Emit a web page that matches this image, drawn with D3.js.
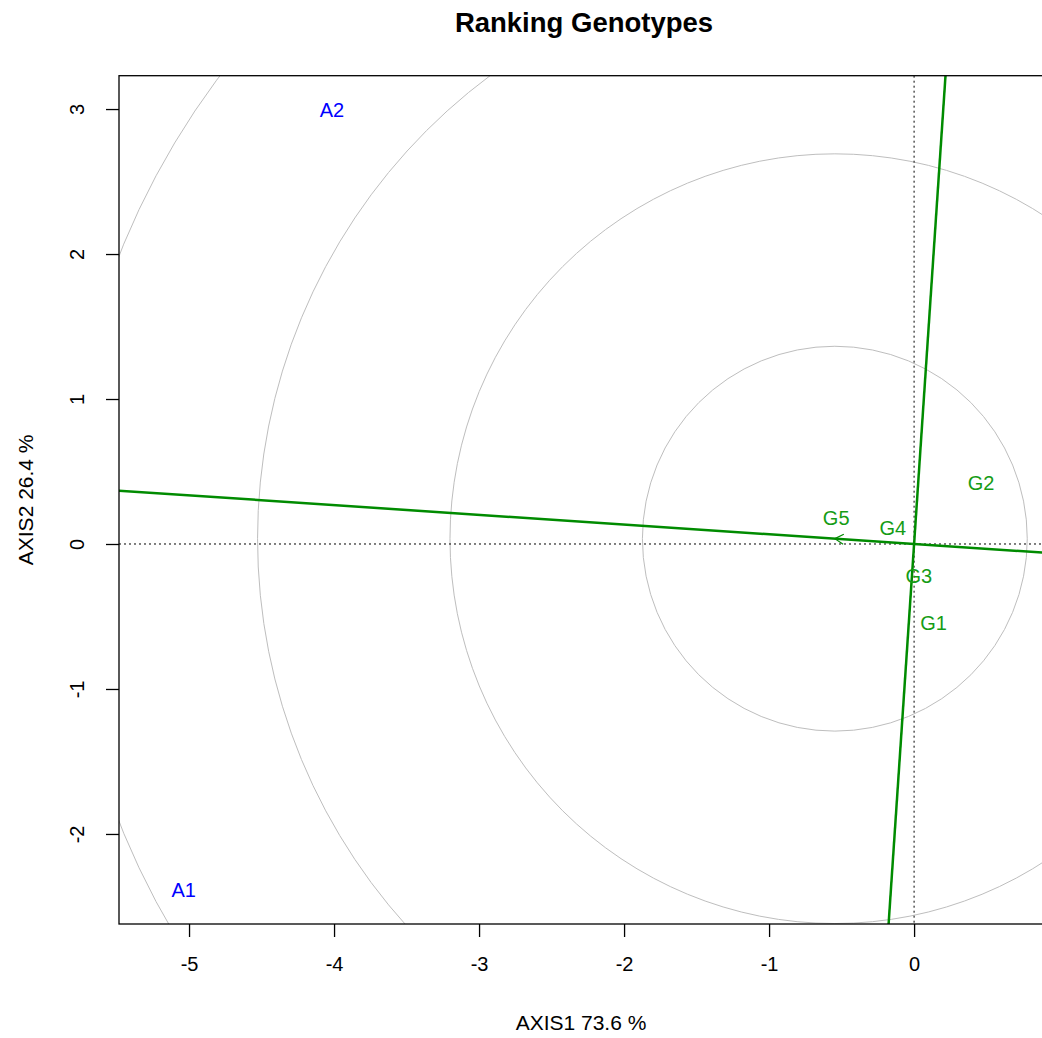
<!DOCTYPE html>
<html lang="en">

<head>
    <meta charset="UTF-8">
    <title>Ranking Genotypes</title>
    <script src="https://d3js.org/d3.v7.min.js"></script>
    <style>
        body { margin: 0; background: #fff; }
        text { font-family: "Liberation Sans", Arial, sans-serif; }
    </style>
</head>

<body>
    <script>
        // biplot scores
        var genotypes = ["G1", "G2", "G3", "G4", "G5"];
        var genoX = [0.135, 0.462, 0.032, -0.147, -0.537];
        var genoY = [-0.545, 0.421, -0.221, 0.110, 0.179];

        var environments = ["A1", "A2"];
        var envX = [-5.037, -4.014];
        var envY = [-2.386, 2.993];

        var xTicks = [-5, -4, -3, -2, -1, 0];
        var yTicks = [-2, -1, 0, 1, 2, 3];
        var rings = [1, 2, 3, 4];
        var ringRadius = 1.327;

        var width = 1042, height = 1038;
        var plotLeft = 119, plotRight = 1043, plotTop = 75.7, plotBottom = 924;

        var svg = d3.select("body").append("svg")
            .attr("width", width)
            .attr("height", height);

        var x = d3.scaleLinear().domain([-5.483, 0.889]).range([plotLeft, plotRight]);
        var y = d3.scaleLinear().domain([-2.621, 3.23]).range([plotBottom, plotTop]);

        svg.append("clipPath").attr("id", "plotclip")
            .append("rect")
            .attr("x", plotLeft).attr("y", plotTop)
            .attr("width", plotRight - plotLeft).attr("height", plotBottom - plotTop);

        var plot = svg.append("g").attr("clip-path", "url(#plotclip)");

        // average environment direction
        var mx = d3.mean(envX), my = d3.mean(envY);
        var len = Math.sqrt(mx * mx + my * my);
        var ux = mx / len, uy = my / len;

        // ideal genotype: largest projection on the average environment axis
        var best = d3.max(genotypes, function (g, i) {
            return genoX[i] * ux + genoY[i] * uy;
        });
        var cx = best * ux, cy = best * uy;

        // concentric circles
        var pxPerUnit = x(1) - x(0);
        plot.selectAll(".ring")
            .data(rings)
            .enter()
            .append("circle")
            .attr("class", "ring")
            .attr("cx", x(cx))
            .attr("cy", y(cy))
            .attr("r", function (d) { return d * ringRadius * pxPerUnit; })
            .attr("fill", "none")
            .attr("stroke", "#bebebe")
            .attr("stroke-width", 1);

        // dotted axes through origin
        plot.append("line")
            .attr("x1", plotLeft).attr("x2", plotRight)
            .attr("y1", y(0)).attr("y2", y(0))
            .attr("stroke", "#000").attr("stroke-width", 1)
            .attr("stroke-dasharray", "2,3");
        plot.append("line")
            .attr("x1", x(0)).attr("x2", x(0))
            .attr("y1", plotTop).attr("y2", plotBottom)
            .attr("stroke", "#000").attr("stroke-width", 1)
            .attr("stroke-dasharray", "2,3");

        // ATC abscissa and ordinate
        var far = 20;
        plot.append("line")
            .attr("x1", x(-far * ux)).attr("y1", y(-far * uy))
            .attr("x2", x(far * ux)).attr("y2", y(far * uy))
            .attr("stroke", "#008b00").attr("stroke-width", 2.5);
        plot.append("line")
            .attr("x1", x(-far * uy)).attr("y1", y(far * ux))
            .attr("x2", x(far * uy)).attr("y2", y(-far * ux))
            .attr("stroke", "#008b00").attr("stroke-width", 2.5);

        // arrow to the ideal genotype
        var tipX = x(cx), tipY = y(cy);
        var ang = Math.atan2(tipY - y(0), tipX - x(0));
        var head = 10, spread = Math.PI / 6;
        plot.append("path")
            .attr("d", "M" + (tipX - head * Math.cos(ang - spread)) + "," + (tipY - head * Math.sin(ang - spread)) +
                "L" + tipX + "," + tipY +
                "L" + (tipX - head * Math.cos(ang + spread)) + "," + (tipY - head * Math.sin(ang + spread)))
            .attr("fill", "none")
            .attr("stroke", "#008b00")
            .attr("stroke-width", 1.2);

        // genotype labels
        plot.selectAll(".geno")
            .data(genotypes)
            .enter()
            .append("text")
            .attr("class", "geno")
            .attr("x", function (d, i) { return x(genoX[i]); })
            .attr("y", function (d, i) { return y(genoY[i]); })
            .attr("dy", "0.36em")
            .attr("text-anchor", "middle")
            .attr("font-size", 20)
            .attr("fill", "#159c15")
            .text(function (d) { return d; });

        // environment labels
        plot.selectAll(".env")
            .data(environments)
            .enter()
            .append("text")
            .attr("class", "env")
            .attr("x", function (d, i) { return x(envX[i]); })
            .attr("y", function (d, i) { return y(envY[i]); })
            .attr("dy", "0.36em")
            .attr("text-anchor", "middle")
            .attr("font-size", 20)
            .attr("fill", "#0000ff")
            .text(function (d) { return d; });

        // frame
        svg.append("rect")
            .attr("x", plotLeft).attr("y", plotTop)
            .attr("width", plotRight - plotLeft).attr("height", plotBottom - plotTop)
            .attr("fill", "none")
            .attr("stroke", "#000")
            .attr("stroke-width", 1.3);

        // axes
        var xAxis = svg.append("g")
            .attr("transform", "translate(0," + plotBottom + ")")
            .call(d3.axisBottom(x).tickValues(xTicks).tickSize(13).tickPadding(20).tickFormat(d3.format("d")));
        var yAxis = svg.append("g")
            .attr("transform", "translate(" + plotLeft + ",0)")
            .call(d3.axisLeft(y).tickValues(yTicks).tickSize(13).tickFormat(d3.format("d")));

        [xAxis, yAxis].forEach(function (a) {
            a.select(".domain").remove();
            a.selectAll("line").attr("stroke", "#000").attr("stroke-width", 1.3);
            a.selectAll("text")
                .attr("font-size", 20)
                .attr("font-family", "Liberation Sans, Arial, sans-serif")
                .attr("fill", "#000")
                .text(function (d) { return d < 0 ? "-" + Math.abs(d) : d; });
        });

        yAxis.selectAll(".tick text")
            .attr("x", null).attr("dy", null)
            .attr("text-anchor", "middle")
            .attr("transform", "translate(-42,0) rotate(-90)")
            .attr("y", 7);

        // titles
        svg.append("text")
            .attr("x", (plotLeft + plotRight) / 2 + 3)
            .attr("y", 32)
            .attr("text-anchor", "middle")
            .attr("font-size", 27.5)
            .attr("font-weight", "bold")
            .text("Ranking Genotypes");

        svg.append("text")
            .attr("x", (plotLeft + plotRight) / 2)
            .attr("y", 1030)
            .attr("text-anchor", "middle")
            .attr("font-size", 21)
            .text("AXIS1 73.6 %");

        svg.append("text")
            .attr("transform", "translate(33," + (plotTop + plotBottom) / 2 + ") rotate(-90)")
            .attr("text-anchor", "middle")
            .attr("font-size", 21)
            .text("AXIS2 26.4 %");
    </script>
</body>

</html>
